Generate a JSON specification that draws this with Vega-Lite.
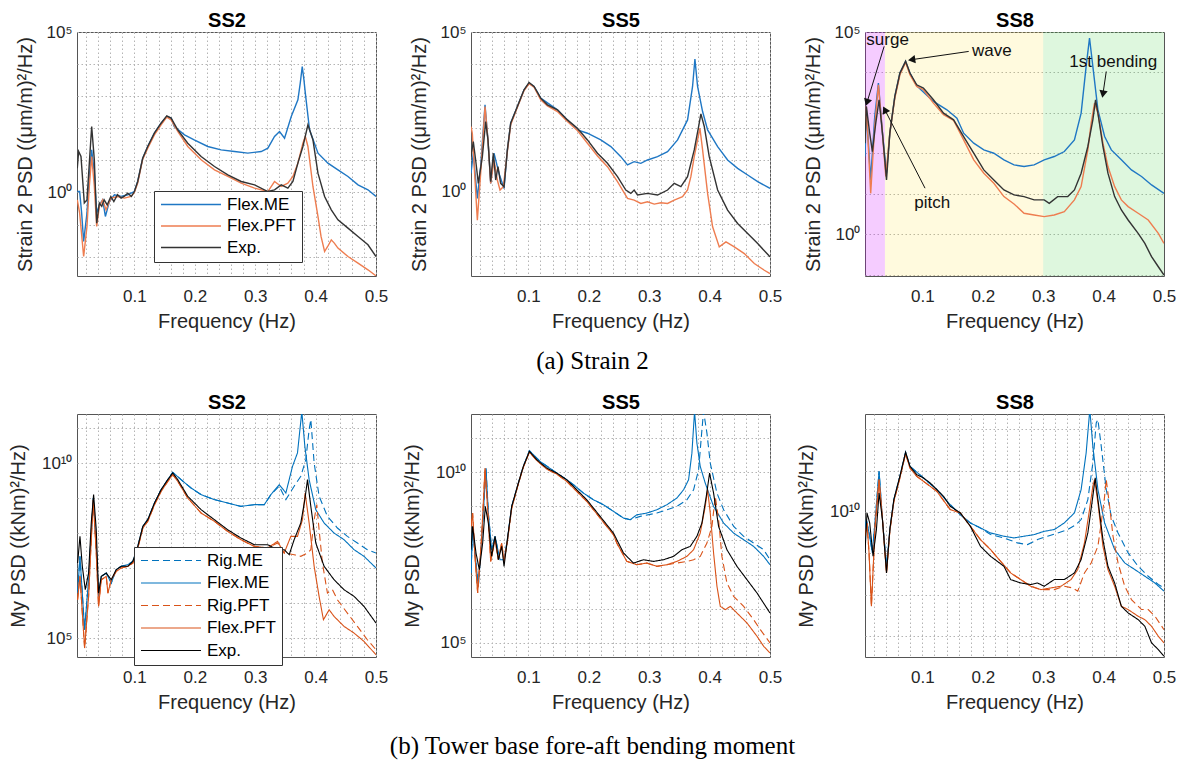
{
"$schema":"https://vega.github.io/schema/vega-lite/v6.json",
"background":"white",
"padding":{"left":7,"top":9,"right":5,"bottom":5},
"config":{
 "font":"Liberation Sans",
 "view":{"stroke":"#555555","strokeWidth":1},
 "axis":{"labelFont":"Liberation Sans","labelFontSize":17,"labelColor":"#262626","titleFont":"Liberation Sans","titleFontSize":20,"titleFontWeight":"normal","titleColor":"#262626","ticks":false,"domain":false,"grid":true,"gridColor":"#b4b4b4","gridDash":[1.5,2.5],"gridWidth":1,"labelOverlap":false},
 "axisX":{"labelPadding":12,"titlePadding":7,"labelFlush":false},
 "axisY":{"labelPadding":5,"titlePadding":11},
 "title":{"font":"Liberation Sans","fontSize":20,"fontWeight":"bold","color":"#000000","frame":"group","anchor":"middle"}
},
"datasets":{
"t2":[
{"s":"Flex.ME","f":0.0055,"v":1.07},{"s":"Flex.ME","f":0.0094,"v":1.07},{"s":"Flex.ME","f":0.0127,"v":0.227},{"s":"Flex.ME","f":0.016,"v":0.0298},{"s":"Flex.ME","f":0.0215,"v":0.227},{"s":"Flex.ME","f":0.0254,"v":3.15},{"s":"Flex.ME","f":0.0293,"v":21.3},{"s":"Flex.ME","f":0.0337,"v":4.0},{"s":"Flex.ME","f":0.0376,"v":0.227},{"s":"Flex.ME","f":0.042,"v":0.41},{"s":"Flex.ME","f":0.0475,"v":0.59},{"s":"Flex.ME","f":0.052,"v":0.179},{"s":"Flex.ME","f":0.0586,"v":0.52},{"s":"Flex.ME","f":0.0669,"v":0.85},{"s":"Flex.ME","f":0.078,"v":0.75},{"s":"Flex.ME","f":0.089,"v":0.85},{"s":"Flex.ME","f":0.1,"v":1.07},{"s":"Flex.ME","f":0.1055,"v":2.2},{"s":"Flex.ME","f":0.1138,"v":11.7},{"s":"Flex.ME","f":0.1221,"v":27.1},{"s":"Flex.ME","f":0.1331,"v":70.5},{"s":"Flex.ME","f":0.1442,"v":144},{"s":"Flex.ME","f":0.1536,"v":233},{"s":"Flex.ME","f":0.161,"v":207},{"s":"Flex.ME","f":0.166,"v":114},{"s":"Flex.ME","f":0.183,"v":62.6},{"s":"Flex.ME","f":0.199,"v":43.7},{"s":"Flex.ME","f":0.2215,"v":27.1},{"s":"Flex.ME","f":0.2436,"v":21.3},{"s":"Flex.ME","f":0.2657,"v":18.9},{"s":"Flex.ME","f":0.2878,"v":16.8},{"s":"Flex.ME","f":0.31,"v":18.9},{"s":"Flex.ME","f":0.321,"v":24},{"s":"Flex.ME","f":0.332,"v":55.6},{"s":"Flex.ME","f":0.3403,"v":79.4},{"s":"Flex.ME","f":0.3486,"v":49.3},{"s":"Flex.ME","f":0.3597,"v":233},{"s":"Flex.ME","f":0.3707,"v":771},{"s":"Flex.ME","f":0.3746,"v":2547},{"s":"Flex.ME","f":0.3779,"v":8414},{"s":"Flex.ME","f":0.3807,"v":3236},{"s":"Flex.ME","f":0.383,"v":1242},{"s":"Flex.ME","f":0.39,"v":89.6},{"s":"Flex.ME","f":0.404,"v":16.8},{"s":"Flex.ME","f":0.4204,"v":8.2},{"s":"Flex.ME","f":0.437,"v":5.08},{"s":"Flex.ME","f":0.4536,"v":3.15},{"s":"Flex.ME","f":0.4702,"v":1.73},{"s":"Flex.ME","f":0.4867,"v":1.21},{"s":"Flex.ME","f":0.5,"v":0.75},
{"s":"Flex.PFT","f":0.0055,"v":0.59},{"s":"Flex.PFT","f":0.0094,"v":0.227},{"s":"Flex.PFT","f":0.016,"v":0.0101},{"s":"Flex.PFT","f":0.0215,"v":0.087},{"s":"Flex.PFT","f":0.0254,"v":1.54},{"s":"Flex.PFT","f":0.0293,"v":13.2},{"s":"Flex.PFT","f":0.0337,"v":1.54},{"s":"Flex.PFT","f":0.0376,"v":0.087},{"s":"Flex.PFT","f":0.042,"v":0.37},{"s":"Flex.PFT","f":0.0475,"v":0.59},{"s":"Flex.PFT","f":0.053,"v":0.288},{"s":"Flex.PFT","f":0.0613,"v":0.67},{"s":"Flex.PFT","f":0.0724,"v":0.75},{"s":"Flex.PFT","f":0.0834,"v":0.67},{"s":"Flex.PFT","f":0.0945,"v":0.75},{"s":"Flex.PFT","f":0.1,"v":1.0},{"s":"Flex.PFT","f":0.1055,"v":1.95},{"s":"Flex.PFT","f":0.1138,"v":10.9},{"s":"Flex.PFT","f":0.1221,"v":24},{"s":"Flex.PFT","f":0.1331,"v":62.6},{"s":"Flex.PFT","f":0.1442,"v":128},{"s":"Flex.PFT","f":0.1536,"v":222},{"s":"Flex.PFT","f":0.1608,"v":184},{"s":"Flex.PFT","f":0.1718,"v":79.4},{"s":"Flex.PFT","f":0.1884,"v":27.1},{"s":"Flex.PFT","f":0.2105,"v":10.4},{"s":"Flex.PFT","f":0.2326,"v":5.08},{"s":"Flex.PFT","f":0.2547,"v":3.15},{"s":"Flex.PFT","f":0.2768,"v":1.95},{"s":"Flex.PFT","f":0.2989,"v":1.36},{"s":"Flex.PFT","f":0.321,"v":1.07},{"s":"Flex.PFT","f":0.332,"v":2.2},{"s":"Flex.PFT","f":0.3431,"v":1.54},{"s":"Flex.PFT","f":0.3541,"v":1.95},{"s":"Flex.PFT","f":0.3624,"v":3.15},{"s":"Flex.PFT","f":0.3707,"v":8.2},{"s":"Flex.PFT","f":0.379,"v":34.4},{"s":"Flex.PFT","f":0.383,"v":55.6},{"s":"Flex.PFT","f":0.3873,"v":27.1},{"s":"Flex.PFT","f":0.3956,"v":1.54},{"s":"Flex.PFT","f":0.4039,"v":0.179},{"s":"Flex.PFT","f":0.409,"v":0.0426},{"s":"Flex.PFT","f":0.4149,"v":0.0145},{"s":"Flex.PFT","f":0.42,"v":0.0208},{"s":"Flex.PFT","f":0.426,"v":0.0335},{"s":"Flex.PFT","f":0.431,"v":0.0264},{"s":"Flex.PFT","f":0.437,"v":0.0185},{"s":"Flex.PFT","f":0.4536,"v":0.0101},{"s":"Flex.PFT","f":0.4702,"v":0.00629},{"s":"Flex.PFT","f":0.4867,"v":0.0039},{"s":"Flex.PFT","f":0.5,"v":0.00253},
{"s":"Exp.","f":0.0055,"v":5.7},{"s":"Exp.","f":0.0077,"v":18.9},{"s":"Exp.","f":0.0116,"v":13.2},{"s":"Exp.","f":0.0171,"v":0.47},{"s":"Exp.","f":0.0215,"v":0.59},{"s":"Exp.","f":0.0254,"v":8.2},{"s":"Exp.","f":0.0293,"v":114},{"s":"Exp.","f":0.0337,"v":10.4},{"s":"Exp.","f":0.0376,"v":0.11},{"s":"Exp.","f":0.042,"v":0.47},{"s":"Exp.","f":0.046,"v":0.37},{"s":"Exp.","f":0.05,"v":0.59},{"s":"Exp.","f":0.055,"v":0.41},{"s":"Exp.","f":0.061,"v":0.75},{"s":"Exp.","f":0.066,"v":0.52},{"s":"Exp.","f":0.072,"v":0.85},{"s":"Exp.","f":0.078,"v":0.67},{"s":"Exp.","f":0.083,"v":0.75},{"s":"Exp.","f":0.089,"v":0.95},{"s":"Exp.","f":0.095,"v":0.75},{"s":"Exp.","f":0.1,"v":1.07},{"s":"Exp.","f":0.1055,"v":2.2},{"s":"Exp.","f":0.1138,"v":11.7},{"s":"Exp.","f":0.1221,"v":27.1},{"s":"Exp.","f":0.1331,"v":70.5},{"s":"Exp.","f":0.1442,"v":144},{"s":"Exp.","f":0.1536,"v":244},{"s":"Exp.","f":0.1608,"v":207},{"s":"Exp.","f":0.1718,"v":89.6},{"s":"Exp.","f":0.1884,"v":34.4},{"s":"Exp.","f":0.2105,"v":13.2},{"s":"Exp.","f":0.2326,"v":6.46},{"s":"Exp.","f":0.2547,"v":3.55},{"s":"Exp.","f":0.2768,"v":2.2},{"s":"Exp.","f":0.2989,"v":1.73},{"s":"Exp.","f":0.321,"v":1.07},{"s":"Exp.","f":0.332,"v":1.21},{"s":"Exp.","f":0.3431,"v":1.73},{"s":"Exp.","f":0.3541,"v":1.36},{"s":"Exp.","f":0.3624,"v":2.2},{"s":"Exp.","f":0.3707,"v":8.2},{"s":"Exp.","f":0.379,"v":27.1},{"s":"Exp.","f":0.3873,"v":128},{"s":"Exp.","f":0.3956,"v":43.7},{"s":"Exp.","f":0.4039,"v":4.0},{"s":"Exp.","f":0.4149,"v":0.75},{"s":"Exp.","f":0.426,"v":0.288},{"s":"Exp.","f":0.437,"v":0.141},{"s":"Exp.","f":0.4536,"v":0.0774},{"s":"Exp.","f":0.4702,"v":0.0426},{"s":"Exp.","f":0.4867,"v":0.0234},{"s":"Exp.","f":0.5,"v":0.0101}
],
"t5":[
{"s":"Flex.ME","f":0.005,"v":3.76},{"s":"Flex.ME","f":0.0088,"v":16},{"s":"Flex.ME","f":0.0155,"v":0.618},{"s":"Flex.ME","f":0.021,"v":6.09},{"s":"Flex.ME","f":0.0282,"v":525},{"s":"Flex.ME","f":0.0331,"v":41.8},{"s":"Flex.ME","f":0.0376,"v":1.83},{"s":"Flex.ME","f":0.0431,"v":16},{"s":"Flex.ME","f":0.0514,"v":3.76},{"s":"Flex.ME","f":0.0597,"v":1.27},{"s":"Flex.ME","f":0.0652,"v":20.3},{"s":"Flex.ME","f":0.0707,"v":139},{"s":"Flex.ME","f":0.0818,"v":465},{"s":"Flex.ME","f":0.0928,"v":1549},{"s":"Flex.ME","f":0.1011,"v":2512},{"s":"Flex.ME","f":0.1094,"v":1972},{"s":"Flex.ME","f":0.1204,"v":849},{"s":"Flex.ME","f":0.1481,"v":365},{"s":"Flex.ME","f":0.1646,"v":177},{"s":"Flex.ME","f":0.1812,"v":86.1},{"s":"Flex.ME","f":0.1978,"v":67.7},{"s":"Flex.ME","f":0.2199,"v":41.8},{"s":"Flex.ME","f":0.2365,"v":25.8},{"s":"Flex.ME","f":0.253,"v":12.5},{"s":"Flex.ME","f":0.2641,"v":6.87},{"s":"Flex.ME","f":0.2751,"v":8.74},{"s":"Flex.ME","f":0.2862,"v":7.74},{"s":"Flex.ME","f":0.2972,"v":9.86},{"s":"Flex.ME","f":0.3138,"v":12.5},{"s":"Flex.ME","f":0.3304,"v":18},{"s":"Flex.ME","f":0.347,"v":41.8},{"s":"Flex.ME","f":0.3635,"v":177},{"s":"Flex.ME","f":0.3718,"v":1972},{"s":"Flex.ME","f":0.3757,"v":14220},{"s":"Flex.ME","f":0.3801,"v":1972},{"s":"Flex.ME","f":0.3884,"v":324},{"s":"Flex.ME","f":0.3967,"v":86.1},{"s":"Flex.ME","f":0.4133,"v":25.8},{"s":"Flex.ME","f":0.4298,"v":9.86},{"s":"Flex.ME","f":0.4464,"v":5.4},{"s":"Flex.ME","f":0.463,"v":3.33},{"s":"Flex.ME","f":0.4796,"v":2.06},{"s":"Flex.ME","f":0.5,"v":1.27},
{"s":"Flex.PFT","f":0.005,"v":110},{"s":"Flex.PFT","f":0.0072,"v":67.7},{"s":"Flex.PFT","f":0.011,"v":3.76},{"s":"Flex.PFT","f":0.0155,"v":0.129},{"s":"Flex.PFT","f":0.021,"v":3.76},{"s":"Flex.PFT","f":0.0282,"v":465},{"s":"Flex.PFT","f":0.0331,"v":41.8},{"s":"Flex.PFT","f":0.0376,"v":1.83},{"s":"Flex.PFT","f":0.0431,"v":9.86},{"s":"Flex.PFT","f":0.0486,"v":2.32},{"s":"Flex.PFT","f":0.053,"v":1.13},{"s":"Flex.PFT","f":0.0586,"v":1.44},{"s":"Flex.PFT","f":0.0652,"v":18},{"s":"Flex.PFT","f":0.0707,"v":124},{"s":"Flex.PFT","f":0.0818,"v":443},{"s":"Flex.PFT","f":0.0928,"v":1476},{"s":"Flex.PFT","f":0.1011,"v":2393},{"s":"Flex.PFT","f":0.1094,"v":1876},{"s":"Flex.PFT","f":0.1204,"v":753},{"s":"Flex.PFT","f":0.1315,"v":488},{"s":"Flex.PFT","f":0.1481,"v":324},{"s":"Flex.PFT","f":0.1646,"v":157},{"s":"Flex.PFT","f":0.1812,"v":82},{"s":"Flex.PFT","f":0.1978,"v":32.9},{"s":"Flex.PFT","f":0.2144,"v":13.2},{"s":"Flex.PFT","f":0.2309,"v":6.09},{"s":"Flex.PFT","f":0.2475,"v":2.06},{"s":"Flex.PFT","f":0.2641,"v":0.618},{"s":"Flex.PFT","f":0.2751,"v":0.547},{"s":"Flex.PFT","f":0.2862,"v":0.43},{"s":"Flex.PFT","f":0.2972,"v":0.486},{"s":"Flex.PFT","f":0.3083,"v":0.41},{"s":"Flex.PFT","f":0.3193,"v":0.452},{"s":"Flex.PFT","f":0.3304,"v":0.43},{"s":"Flex.PFT","f":0.3414,"v":0.547},{"s":"Flex.PFT","f":0.3552,"v":0.697},{"s":"Flex.PFT","f":0.3635,"v":1.13},{"s":"Flex.PFT","f":0.369,"v":2.96},{"s":"Flex.PFT","f":0.3746,"v":12.5},{"s":"Flex.PFT","f":0.3801,"v":41.8},{"s":"Flex.PFT","f":0.384,"v":97.1},{"s":"Flex.PFT","f":0.3884,"v":20.3},{"s":"Flex.PFT","f":0.3967,"v":0.887},{"s":"Flex.PFT","f":0.405,"v":0.0798},{"s":"Flex.PFT","f":0.416,"v":0.0188},{"s":"Flex.PFT","f":0.4271,"v":0.027},{"s":"Flex.PFT","f":0.4409,"v":0.0188},{"s":"Flex.PFT","f":0.4575,"v":0.0116},{"s":"Flex.PFT","f":0.474,"v":0.00564},{"s":"Flex.PFT","f":0.4906,"v":0.00348},{"s":"Flex.PFT","f":0.5,"v":0.00274},
{"s":"Exp.","f":0.005,"v":12.5},{"s":"Exp.","f":0.0088,"v":37.1},{"s":"Exp.","f":0.0127,"v":9.86},{"s":"Exp.","f":0.0171,"v":1.83},{"s":"Exp.","f":0.0238,"v":12.5},{"s":"Exp.","f":0.0293,"v":157},{"s":"Exp.","f":0.0331,"v":41.8},{"s":"Exp.","f":0.0376,"v":2.06},{"s":"Exp.","f":0.042,"v":16},{"s":"Exp.","f":0.0459,"v":2.32},{"s":"Exp.","f":0.0497,"v":6.09},{"s":"Exp.","f":0.0541,"v":1.83},{"s":"Exp.","f":0.0597,"v":1.44},{"s":"Exp.","f":0.0652,"v":20.3},{"s":"Exp.","f":0.0707,"v":139},{"s":"Exp.","f":0.0818,"v":465},{"s":"Exp.","f":0.0928,"v":1549},{"s":"Exp.","f":0.1011,"v":2634},{"s":"Exp.","f":0.1094,"v":1972},{"s":"Exp.","f":0.1204,"v":849},{"s":"Exp.","f":0.1315,"v":525},{"s":"Exp.","f":0.1481,"v":365},{"s":"Exp.","f":0.1646,"v":177},{"s":"Exp.","f":0.1812,"v":97.1},{"s":"Exp.","f":0.1978,"v":41.8},{"s":"Exp.","f":0.2144,"v":16},{"s":"Exp.","f":0.2309,"v":7.74},{"s":"Exp.","f":0.2475,"v":2.96},{"s":"Exp.","f":0.2613,"v":1.13},{"s":"Exp.","f":0.2696,"v":0.887},{"s":"Exp.","f":0.2751,"v":1.13},{"s":"Exp.","f":0.2807,"v":0.786},{"s":"Exp.","f":0.2972,"v":0.887},{"s":"Exp.","f":0.3138,"v":0.786},{"s":"Exp.","f":0.3304,"v":1.13},{"s":"Exp.","f":0.3414,"v":1.83},{"s":"Exp.","f":0.3525,"v":1.44},{"s":"Exp.","f":0.3635,"v":2.96},{"s":"Exp.","f":0.3746,"v":20.3},{"s":"Exp.","f":0.3818,"v":110},{"s":"Exp.","f":0.3856,"v":274},{"s":"Exp.","f":0.3912,"v":110},{"s":"Exp.","f":0.3994,"v":12.5},{"s":"Exp.","f":0.4133,"v":1.13},{"s":"Exp.","f":0.4298,"v":0.266},{"s":"Exp.","f":0.4464,"v":0.101},{"s":"Exp.","f":0.463,"v":0.0492},{"s":"Exp.","f":0.4796,"v":0.0239},{"s":"Exp.","f":0.5,"v":0.00912}
],
"t8":[
{"s":"Flex.ME","f":0.005,"v":83.6},{"s":"Flex.ME","f":0.0072,"v":1195},{"s":"Flex.ME","f":0.0144,"v":22.1},{"s":"Flex.ME","f":0.0211,"v":818},{"s":"Flex.ME","f":0.0272,"v":5470},{"s":"Flex.ME","f":0.0339,"v":316},{"s":"Flex.ME","f":0.0406,"v":32.4},{"s":"Flex.ME","f":0.0461,"v":316},{"s":"Flex.ME","f":0.0544,"v":2558},{"s":"Flex.ME","f":0.0628,"v":9660},{"s":"Flex.ME","f":0.0722,"v":18790},{"s":"Flex.ME","f":0.0794,"v":9660},{"s":"Flex.ME","f":0.0906,"v":4696},{"s":"Flex.ME","f":0.1183,"v":1923},{"s":"Flex.ME","f":0.1406,"v":1195},{"s":"Flex.ME","f":0.1572,"v":743},{"s":"Flex.ME","f":0.1683,"v":316},{"s":"Flex.ME","f":0.185,"v":179},{"s":"Flex.ME","f":0.2017,"v":122},{"s":"Flex.ME","f":0.2183,"v":101},{"s":"Flex.ME","f":0.235,"v":69.2},{"s":"Flex.ME","f":0.2517,"v":52},{"s":"Flex.ME","f":0.2683,"v":47.3},{"s":"Flex.ME","f":0.285,"v":52},{"s":"Flex.ME","f":0.3017,"v":69.2},{"s":"Flex.ME","f":0.3183,"v":83.6},{"s":"Flex.ME","f":0.335,"v":111},{"s":"Flex.ME","f":0.3517,"v":216},{"s":"Flex.ME","f":0.3628,"v":988},{"s":"Flex.ME","f":0.3711,"v":14130},{"s":"Flex.ME","f":0.3767,"v":70990},{"s":"Flex.ME","f":0.3822,"v":14130},{"s":"Flex.ME","f":0.3906,"v":1195},{"s":"Flex.ME","f":0.4017,"v":261},{"s":"Flex.ME","f":0.4128,"v":122},{"s":"Flex.ME","f":0.4294,"v":69.2},{"s":"Flex.ME","f":0.4461,"v":39.1},{"s":"Flex.ME","f":0.4628,"v":26.8},{"s":"Flex.ME","f":0.4794,"v":16.6},{"s":"Flex.ME","f":0.5,"v":10.3},
{"s":"Flex.PFT","f":0.005,"v":216},{"s":"Flex.PFT","f":0.0072,"v":1445},{"s":"Flex.PFT","f":0.0144,"v":10.3},{"s":"Flex.PFT","f":0.0211,"v":462},{"s":"Flex.PFT","f":0.0272,"v":4966},{"s":"Flex.PFT","f":0.0339,"v":316},{"s":"Flex.PFT","f":0.0394,"v":26.8},{"s":"Flex.PFT","f":0.0461,"v":316},{"s":"Flex.PFT","f":0.0544,"v":2323},{"s":"Flex.PFT","f":0.0628,"v":8790},{"s":"Flex.PFT","f":0.0722,"v":17740},{"s":"Flex.PFT","f":0.0794,"v":8790},{"s":"Flex.PFT","f":0.0906,"v":4521},{"s":"Flex.PFT","f":0.1017,"v":3741},{"s":"Flex.PFT","f":0.1183,"v":1750},{"s":"Flex.PFT","f":0.135,"v":899},{"s":"Flex.PFT","f":0.1517,"v":651},{"s":"Flex.PFT","f":0.1683,"v":216},{"s":"Flex.PFT","f":0.185,"v":69.2},{"s":"Flex.PFT","f":0.2017,"v":32.4},{"s":"Flex.PFT","f":0.2183,"v":18.3},{"s":"Flex.PFT","f":0.235,"v":8.55},{"s":"Flex.PFT","f":0.2517,"v":5.63},{"s":"Flex.PFT","f":0.2683,"v":3.31},{"s":"Flex.PFT","f":0.285,"v":3.01},{"s":"Flex.PFT","f":0.3017,"v":2.74},{"s":"Flex.PFT","f":0.3183,"v":3.01},{"s":"Flex.PFT","f":0.335,"v":3.64},{"s":"Flex.PFT","f":0.3517,"v":7.08},{"s":"Flex.PFT","f":0.3628,"v":15.1},{"s":"Flex.PFT","f":0.3739,"v":122},{"s":"Flex.PFT","f":0.3794,"v":560},{"s":"Flex.PFT","f":0.385,"v":1750},{"s":"Flex.PFT","f":0.3906,"v":988},{"s":"Flex.PFT","f":0.3989,"v":179},{"s":"Flex.PFT","f":0.4072,"v":47.3},{"s":"Flex.PFT","f":0.4183,"v":15.1},{"s":"Flex.PFT","f":0.4294,"v":7.08},{"s":"Flex.PFT","f":0.4406,"v":4.84},{"s":"Flex.PFT","f":0.4572,"v":3.31},{"s":"Flex.PFT","f":0.4739,"v":2.26},{"s":"Flex.PFT","f":0.4906,"v":1.06},{"s":"Flex.PFT","f":0.5,"v":0.599},
{"s":"Exp.","f":0.005,"v":179},{"s":"Exp.","f":0.0072,"v":1445},{"s":"Exp.","f":0.0128,"v":316},{"s":"Exp.","f":0.0172,"v":111},{"s":"Exp.","f":0.0228,"v":560},{"s":"Exp.","f":0.0283,"v":2113},{"s":"Exp.","f":0.0339,"v":316},{"s":"Exp.","f":0.0406,"v":22.1},{"s":"Exp.","f":0.0461,"v":316},{"s":"Exp.","f":0.0544,"v":2558},{"s":"Exp.","f":0.0628,"v":9660},{"s":"Exp.","f":0.0722,"v":18790},{"s":"Exp.","f":0.0794,"v":9660},{"s":"Exp.","f":0.0906,"v":4966},{"s":"Exp.","f":0.1017,"v":4111},{"s":"Exp.","f":0.1183,"v":2113},{"s":"Exp.","f":0.135,"v":988},{"s":"Exp.","f":0.1517,"v":676},{"s":"Exp.","f":0.1683,"v":261},{"s":"Exp.","f":0.185,"v":101},{"s":"Exp.","f":0.2017,"v":39.1},{"s":"Exp.","f":0.2183,"v":22.1},{"s":"Exp.","f":0.235,"v":12.5},{"s":"Exp.","f":0.2517,"v":9.42},{"s":"Exp.","f":0.2683,"v":8.55},{"s":"Exp.","f":0.285,"v":7.08},{"s":"Exp.","f":0.3017,"v":7.08},{"s":"Exp.","f":0.31,"v":5.85},{"s":"Exp.","f":0.3239,"v":8.55},{"s":"Exp.","f":0.3406,"v":8.55},{"s":"Exp.","f":0.3517,"v":12.5},{"s":"Exp.","f":0.3628,"v":32.4},{"s":"Exp.","f":0.3739,"v":148},{"s":"Exp.","f":0.3822,"v":676},{"s":"Exp.","f":0.3867,"v":2113},{"s":"Exp.","f":0.3906,"v":988},{"s":"Exp.","f":0.3989,"v":148},{"s":"Exp.","f":0.4072,"v":32.4},{"s":"Exp.","f":0.4183,"v":8.55},{"s":"Exp.","f":0.4294,"v":4.0},{"s":"Exp.","f":0.4406,"v":2.26},{"s":"Exp.","f":0.4572,"v":1.06},{"s":"Exp.","f":0.4683,"v":0.599},{"s":"Exp.","f":0.4794,"v":0.28},{"s":"Exp.","f":0.4906,"v":0.158},{"s":"Exp.","f":0.5,"v":0.0985}
],
"bands8":[{"band":"low","f":0.005,"f2":0.038},{"band":"wave","f":0.038,"f2":0.3},{"band":"bend","f":0.3,"f2":0.5}],
"arrows8":[{"f":0.0367,"v":44200,"f2":0.0083,"v2":1820,"a":197},{"f":0.1767,"v":33100,"f2":0.0822,"v2":20700,"a":262},{"f":0.4044,"v":10600,"f2":0.3989,"v2":2920,"a":190},{"f":0.1044,"v":13.8,"f2":0.0378,"v2":1200,"a":333}],
"labels8":[{"label":"surge","f":0.0072,"v":64600},{"label":"wave","f":0.1822,"v":33100},{"label":"1st bending","f":0.3433,"v":17800},{"label":"pitch","f":0.0867,"v":5.85}],
"b2":[
{"s":"Rig.ME","f":0.006,"v":1.94e6},{"s":"Rig.ME","f":0.0099,"v":2.18e7},{"s":"Rig.ME","f":0.0176,"v":1.73e5},{"s":"Rig.ME","f":0.0242,"v":4.68e6},{"s":"Rig.ME","f":0.0319,"v":1.02e9},{"s":"Rig.ME","f":0.0369,"v":4.21e7},{"s":"Rig.ME","f":0.0407,"v":1.56e6},{"s":"Rig.ME","f":0.0452,"v":5.82e6},{"s":"Rig.ME","f":0.0534,"v":7.26e6},{"s":"Rig.ME","f":0.0617,"v":3.76e6},{"s":"Rig.ME","f":0.0699,"v":9.04e6},{"s":"Rig.ME","f":0.0782,"v":1.13e7},{"s":"Rig.ME","f":0.0892,"v":1.26e7},{"s":"Rig.ME","f":0.0975,"v":1.57e7},{"s":"Rig.ME","f":0.1057,"v":4.21e7},{"s":"Rig.ME","f":0.114,"v":1.57e8},{"s":"Rig.ME","f":0.1222,"v":2.44e8},{"s":"Rig.ME","f":0.1333,"v":7.31e8},{"s":"Rig.ME","f":0.1443,"v":1.76e9},{"s":"Rig.ME","f":0.1553,"v":3.4e9},{"s":"Rig.ME","f":0.1635,"v":5.52e9},{"s":"Rig.ME","f":0.1773,"v":3.4e9},{"s":"Rig.ME","f":0.1938,"v":1.97e9},{"s":"Rig.ME","f":0.2104,"v":1.27e9},{"s":"Rig.ME","f":0.2324,"v":9.12e8},{"s":"Rig.ME","f":0.2544,"v":7.31e8},{"s":"Rig.ME","f":0.2764,"v":5.87e8},{"s":"Rig.ME","f":0.2985,"v":6.56e8},{"s":"Rig.ME","f":0.315,"v":6.56e8},{"s":"Rig.ME","f":0.326,"v":1.27e9},{"s":"Rig.ME","f":0.3398,"v":2.2e9},{"s":"Rig.ME","f":0.3508,"v":9.12e8},{"s":"Rig.ME","f":0.3645,"v":2.2e9},{"s":"Rig.ME","f":0.3755,"v":4.25e9},{"s":"Rig.ME","f":0.3838,"v":1.27e10},{"s":"Rig.ME","f":0.3893,"v":9.2e10},{"s":"Rig.ME","f":0.3921,"v":1.78e11},{"s":"Rig.ME","f":0.3976,"v":1.02e10},{"s":"Rig.ME","f":0.4058,"v":1.14e9},{"s":"Rig.ME","f":0.4196,"v":3.04e8},{"s":"Rig.ME","f":0.4361,"v":1.41e8},{"s":"Rig.ME","f":0.4526,"v":8.13e7},{"s":"Rig.ME","f":0.4692,"v":5.24e7},{"s":"Rig.ME","f":0.4857,"v":3.38e7},{"s":"Rig.ME","f":0.5,"v":2.71e7},
{"s":"Flex.ME","f":0.006,"v":1.94e6},{"s":"Flex.ME","f":0.0099,"v":2.18e7},{"s":"Flex.ME","f":0.0176,"v":1.73e5},{"s":"Flex.ME","f":0.0242,"v":4.68e6},{"s":"Flex.ME","f":0.0319,"v":1.02e9},{"s":"Flex.ME","f":0.0369,"v":4.21e7},{"s":"Flex.ME","f":0.0407,"v":1.56e6},{"s":"Flex.ME","f":0.0452,"v":5.82e6},{"s":"Flex.ME","f":0.0534,"v":7.26e6},{"s":"Flex.ME","f":0.0617,"v":3.76e6},{"s":"Flex.ME","f":0.0699,"v":9.04e6},{"s":"Flex.ME","f":0.0782,"v":1.13e7},{"s":"Flex.ME","f":0.0892,"v":1.26e7},{"s":"Flex.ME","f":0.0975,"v":1.57e7},{"s":"Flex.ME","f":0.1057,"v":4.21e7},{"s":"Flex.ME","f":0.114,"v":1.57e8},{"s":"Flex.ME","f":0.1222,"v":2.44e8},{"s":"Flex.ME","f":0.1333,"v":7.31e8},{"s":"Flex.ME","f":0.1443,"v":1.76e9},{"s":"Flex.ME","f":0.1553,"v":3.4e9},{"s":"Flex.ME","f":0.1635,"v":5.52e9},{"s":"Flex.ME","f":0.1773,"v":3.4e9},{"s":"Flex.ME","f":0.1938,"v":1.97e9},{"s":"Flex.ME","f":0.2104,"v":1.27e9},{"s":"Flex.ME","f":0.2324,"v":9.12e8},{"s":"Flex.ME","f":0.2544,"v":7.31e8},{"s":"Flex.ME","f":0.2764,"v":5.87e8},{"s":"Flex.ME","f":0.2985,"v":6.56e8},{"s":"Flex.ME","f":0.315,"v":6.56e8},{"s":"Flex.ME","f":0.326,"v":1.27e9},{"s":"Flex.ME","f":0.3398,"v":2.45e9},{"s":"Flex.ME","f":0.3508,"v":1.42e9},{"s":"Flex.ME","f":0.3618,"v":8.2e9},{"s":"Flex.ME","f":0.37,"v":1.98e10},{"s":"Flex.ME","f":0.3772,"v":3.0e11},{"s":"Flex.ME","f":0.3822,"v":3.07e10},{"s":"Flex.ME","f":0.3893,"v":3.4e9},{"s":"Flex.ME","f":0.4003,"v":4.72e8},{"s":"Flex.ME","f":0.4141,"v":1.96e8},{"s":"Flex.ME","f":0.4306,"v":1.01e8},{"s":"Flex.ME","f":0.4471,"v":6.53e7},{"s":"Flex.ME","f":0.4637,"v":3.38e7},{"s":"Flex.ME","f":0.4802,"v":2.18e7},{"s":"Flex.ME","f":0.5,"v":1.01e7},
{"s":"Rig.PFT","f":0.006,"v":1.25e6},{"s":"Rig.PFT","f":0.0099,"v":5.82e6},{"s":"Rig.PFT","f":0.0176,"v":5.18e4},{"s":"Rig.PFT","f":0.0242,"v":1.56e6},{"s":"Rig.PFT","f":0.0286,"v":6.53e7},{"s":"Rig.PFT","f":0.0319,"v":9.12e8},{"s":"Rig.PFT","f":0.0369,"v":2.71e7},{"s":"Rig.PFT","f":0.0407,"v":8.05e5},{"s":"Rig.PFT","f":0.0452,"v":4.68e6},{"s":"Rig.PFT","f":0.0534,"v":5.82e6},{"s":"Rig.PFT","f":0.0562,"v":1.94e6},{"s":"Rig.PFT","f":0.0617,"v":4.68e6},{"s":"Rig.PFT","f":0.0699,"v":8.09e6},{"s":"Rig.PFT","f":0.0782,"v":1.01e7},{"s":"Rig.PFT","f":0.0892,"v":1.13e7},{"s":"Rig.PFT","f":0.0975,"v":1.4e7},{"s":"Rig.PFT","f":0.1057,"v":3.77e7},{"s":"Rig.PFT","f":0.114,"v":1.41e8},{"s":"Rig.PFT","f":0.1222,"v":2.19e8},{"s":"Rig.PFT","f":0.1333,"v":6.56e8},{"s":"Rig.PFT","f":0.1443,"v":1.58e9},{"s":"Rig.PFT","f":0.1553,"v":3.05e9},{"s":"Rig.PFT","f":0.1635,"v":4.74e9},{"s":"Rig.PFT","f":0.1718,"v":3.05e9},{"s":"Rig.PFT","f":0.1883,"v":1.02e9},{"s":"Rig.PFT","f":0.2104,"v":3.78e8},{"s":"Rig.PFT","f":0.2324,"v":2.19e8},{"s":"Rig.PFT","f":0.2544,"v":1.13e8},{"s":"Rig.PFT","f":0.2764,"v":6.53e7},{"s":"Rig.PFT","f":0.2985,"v":4.21e7},{"s":"Rig.PFT","f":0.3205,"v":3.77e7},{"s":"Rig.PFT","f":0.337,"v":5.24e7},{"s":"Rig.PFT","f":0.348,"v":2.71e7},{"s":"Rig.PFT","f":0.3645,"v":2.43e7},{"s":"Rig.PFT","f":0.3755,"v":2.18e7},{"s":"Rig.PFT","f":0.3866,"v":2.71e7},{"s":"Rig.PFT","f":0.3921,"v":3.38e7},{"s":"Rig.PFT","f":0.3976,"v":2.44e8},{"s":"Rig.PFT","f":0.402,"v":6.56e8},{"s":"Rig.PFT","f":0.4058,"v":1.26e8},{"s":"Rig.PFT","f":0.4113,"v":1.4e7},{"s":"Rig.PFT","f":0.4196,"v":1.94e6},{"s":"Rig.PFT","f":0.4279,"v":2.42e6},{"s":"Rig.PFT","f":0.4361,"v":1.25e6},{"s":"Rig.PFT","f":0.4526,"v":5.2e5},{"s":"Rig.PFT","f":0.4692,"v":2.16e5},{"s":"Rig.PFT","f":0.4857,"v":8.96e4},{"s":"Rig.PFT","f":0.5,"v":4.64e4},
{"s":"Flex.PFT","f":0.006,"v":1.25e6},{"s":"Flex.PFT","f":0.0099,"v":5.82e6},{"s":"Flex.PFT","f":0.0176,"v":5.18e4},{"s":"Flex.PFT","f":0.0242,"v":1.56e6},{"s":"Flex.PFT","f":0.0286,"v":6.53e7},{"s":"Flex.PFT","f":0.0319,"v":9.12e8},{"s":"Flex.PFT","f":0.0369,"v":2.71e7},{"s":"Flex.PFT","f":0.0407,"v":8.05e5},{"s":"Flex.PFT","f":0.0452,"v":4.68e6},{"s":"Flex.PFT","f":0.0534,"v":5.82e6},{"s":"Flex.PFT","f":0.0562,"v":1.94e6},{"s":"Flex.PFT","f":0.0617,"v":4.68e6},{"s":"Flex.PFT","f":0.0699,"v":8.09e6},{"s":"Flex.PFT","f":0.0782,"v":1.01e7},{"s":"Flex.PFT","f":0.0892,"v":1.13e7},{"s":"Flex.PFT","f":0.0975,"v":1.4e7},{"s":"Flex.PFT","f":0.1057,"v":3.77e7},{"s":"Flex.PFT","f":0.114,"v":1.41e8},{"s":"Flex.PFT","f":0.1222,"v":2.19e8},{"s":"Flex.PFT","f":0.1333,"v":6.56e8},{"s":"Flex.PFT","f":0.1443,"v":1.58e9},{"s":"Flex.PFT","f":0.1553,"v":3.05e9},{"s":"Flex.PFT","f":0.1635,"v":4.74e9},{"s":"Flex.PFT","f":0.1718,"v":3.05e9},{"s":"Flex.PFT","f":0.1883,"v":1.02e9},{"s":"Flex.PFT","f":0.2104,"v":3.78e8},{"s":"Flex.PFT","f":0.2324,"v":2.19e8},{"s":"Flex.PFT","f":0.2544,"v":1.13e8},{"s":"Flex.PFT","f":0.2764,"v":6.53e7},{"s":"Flex.PFT","f":0.2985,"v":4.21e7},{"s":"Flex.PFT","f":0.3205,"v":3.77e7},{"s":"Flex.PFT","f":0.337,"v":5.85e7},{"s":"Flex.PFT","f":0.348,"v":2.71e7},{"s":"Flex.PFT","f":0.359,"v":8.13e7},{"s":"Flex.PFT","f":0.37,"v":8.13e7},{"s":"Flex.PFT","f":0.3783,"v":2.44e8},{"s":"Flex.PFT","f":0.3827,"v":1.42e9},{"s":"Flex.PFT","f":0.3893,"v":1.96e8},{"s":"Flex.PFT","f":0.3976,"v":1.13e7},{"s":"Flex.PFT","f":0.4058,"v":1.56e6},{"s":"Flex.PFT","f":0.413,"v":3.35e5},{"s":"Flex.PFT","f":0.4224,"v":6.47e5},{"s":"Flex.PFT","f":0.4306,"v":4.17e5},{"s":"Flex.PFT","f":0.4471,"v":2.16e5},{"s":"Flex.PFT","f":0.4637,"v":1.39e5},{"s":"Flex.PFT","f":0.4802,"v":8.04e4},{"s":"Flex.PFT","f":0.5,"v":3.33e4},
{"s":"Exp.","f":0.006,"v":1.4e7},{"s":"Exp.","f":0.0099,"v":8.13e7},{"s":"Exp.","f":0.0138,"v":1.13e7},{"s":"Exp.","f":0.0187,"v":2.42e6},{"s":"Exp.","f":0.0242,"v":7.26e6},{"s":"Exp.","f":0.0286,"v":1.96e8},{"s":"Exp.","f":0.0325,"v":1.27e9},{"s":"Exp.","f":0.0369,"v":1.26e8},{"s":"Exp.","f":0.0407,"v":1.94e6},{"s":"Exp.","f":0.0452,"v":5.82e6},{"s":"Exp.","f":0.0534,"v":7.26e6},{"s":"Exp.","f":0.0617,"v":4.68e6},{"s":"Exp.","f":0.0699,"v":9.04e6},{"s":"Exp.","f":0.0782,"v":1.13e7},{"s":"Exp.","f":0.0892,"v":1.13e7},{"s":"Exp.","f":0.0975,"v":1.57e7},{"s":"Exp.","f":0.1057,"v":4.21e7},{"s":"Exp.","f":0.114,"v":1.57e8},{"s":"Exp.","f":0.1222,"v":2.44e8},{"s":"Exp.","f":0.1333,"v":7.31e8},{"s":"Exp.","f":0.1443,"v":1.76e9},{"s":"Exp.","f":0.1553,"v":3.4e9},{"s":"Exp.","f":0.1635,"v":5.28e9},{"s":"Exp.","f":0.1718,"v":3.4e9},{"s":"Exp.","f":0.1883,"v":1.14e9},{"s":"Exp.","f":0.2104,"v":4.72e8},{"s":"Exp.","f":0.2324,"v":2.44e8},{"s":"Exp.","f":0.2544,"v":1.26e8},{"s":"Exp.","f":0.2764,"v":7.29e7},{"s":"Exp.","f":0.2985,"v":4.7e7},{"s":"Exp.","f":0.3205,"v":4.7e7},{"s":"Exp.","f":0.337,"v":3.38e7},{"s":"Exp.","f":0.348,"v":3.38e7},{"s":"Exp.","f":0.3563,"v":2.43e7},{"s":"Exp.","f":0.3645,"v":6.53e7},{"s":"Exp.","f":0.3755,"v":1.96e8},{"s":"Exp.","f":0.3822,"v":9.12e8},{"s":"Exp.","f":0.3866,"v":3.4e9},{"s":"Exp.","f":0.3921,"v":5.87e8},{"s":"Exp.","f":0.4003,"v":5.24e7},{"s":"Exp.","f":0.4141,"v":1.13e7},{"s":"Exp.","f":0.4306,"v":4.68e6},{"s":"Exp.","f":0.4471,"v":2.42e6},{"s":"Exp.","f":0.4637,"v":1.56e6},{"s":"Exp.","f":0.4802,"v":8.05e5},{"s":"Exp.","f":0.5,"v":2.69e5}
],
"b5":[
{"s":"Rig.ME","f":0.005,"v":1.11e7},{"s":"Rig.ME","f":0.0077,"v":2.06e8},{"s":"Rig.ME","f":0.0116,"v":4.29e7},{"s":"Rig.ME","f":0.0171,"v":4.54e6},{"s":"Rig.ME","f":0.0227,"v":1.05e8},{"s":"Rig.ME","f":0.0298,"v":1.31e10},{"s":"Rig.ME","f":0.0337,"v":6.32e8},{"s":"Rig.ME","f":0.0392,"v":5.36e7},{"s":"Rig.ME","f":0.0448,"v":1.32e8},{"s":"Rig.ME","f":0.053,"v":2.73e7},{"s":"Rig.ME","f":0.0597,"v":2.73e7},{"s":"Rig.ME","f":0.0652,"v":1.05e8},{"s":"Rig.ME","f":0.0724,"v":9.91e8},{"s":"Rig.ME","f":0.0834,"v":4.76e9},{"s":"Rig.ME","f":0.0917,"v":1.47e10},{"s":"Rig.ME","f":0.1017,"v":4.21e10},{"s":"Rig.ME","f":0.1193,"v":2.05e10},{"s":"Rig.ME","f":0.147,"v":9.35e9},{"s":"Rig.ME","f":0.1635,"v":5.97e9},{"s":"Rig.ME","f":0.1746,"v":4.27e9},{"s":"Rig.ME","f":0.1912,"v":2.43e9},{"s":"Rig.ME","f":0.2077,"v":1.55e9},{"s":"Rig.ME","f":0.2243,"v":1.11e9},{"s":"Rig.ME","f":0.2409,"v":7.08e8},{"s":"Rig.ME","f":0.2575,"v":4.52e8},{"s":"Rig.ME","f":0.2685,"v":4.04e8},{"s":"Rig.ME","f":0.2851,"v":5.06e8},{"s":"Rig.ME","f":0.3127,"v":6.32e8},{"s":"Rig.ME","f":0.3293,"v":7.93e8},{"s":"Rig.ME","f":0.3459,"v":9.91e8},{"s":"Rig.ME","f":0.3624,"v":1.55e9},{"s":"Rig.ME","f":0.3735,"v":3.04e9},{"s":"Rig.ME","f":0.3818,"v":1.17e10},{"s":"Rig.ME","f":0.3873,"v":1.73e11},{"s":"Rig.ME","f":0.39,"v":6e11},{"s":"Rig.ME","f":0.3956,"v":1.38e11},{"s":"Rig.ME","f":0.4011,"v":1.83e10},{"s":"Rig.ME","f":0.4122,"v":2.43e9},{"s":"Rig.ME","f":0.4232,"v":7.93e8},{"s":"Rig.ME","f":0.4398,"v":2.58e8},{"s":"Rig.ME","f":0.4564,"v":1.32e8},{"s":"Rig.ME","f":0.4729,"v":8.39e7},{"s":"Rig.ME","f":0.4895,"v":5.36e7},{"s":"Rig.ME","f":0.5,"v":2.73e7},
{"s":"Flex.ME","f":0.005,"v":1.11e7},{"s":"Flex.ME","f":0.0077,"v":2.06e8},{"s":"Flex.ME","f":0.0116,"v":4.29e7},{"s":"Flex.ME","f":0.0171,"v":4.54e6},{"s":"Flex.ME","f":0.0227,"v":1.05e8},{"s":"Flex.ME","f":0.0298,"v":1.31e10},{"s":"Flex.ME","f":0.0337,"v":6.32e8},{"s":"Flex.ME","f":0.0392,"v":5.36e7},{"s":"Flex.ME","f":0.0448,"v":1.32e8},{"s":"Flex.ME","f":0.053,"v":2.73e7},{"s":"Flex.ME","f":0.0597,"v":2.73e7},{"s":"Flex.ME","f":0.0652,"v":1.05e8},{"s":"Flex.ME","f":0.0724,"v":9.91e8},{"s":"Flex.ME","f":0.0834,"v":4.76e9},{"s":"Flex.ME","f":0.0917,"v":1.47e10},{"s":"Flex.ME","f":0.1017,"v":4.21e10},{"s":"Flex.ME","f":0.1193,"v":2.05e10},{"s":"Flex.ME","f":0.147,"v":9.35e9},{"s":"Flex.ME","f":0.1635,"v":5.97e9},{"s":"Flex.ME","f":0.1746,"v":4.27e9},{"s":"Flex.ME","f":0.1912,"v":2.43e9},{"s":"Flex.ME","f":0.2077,"v":1.55e9},{"s":"Flex.ME","f":0.2243,"v":1.11e9},{"s":"Flex.ME","f":0.2409,"v":7.08e8},{"s":"Flex.ME","f":0.2575,"v":4.52e8},{"s":"Flex.ME","f":0.2685,"v":4.04e8},{"s":"Flex.ME","f":0.2796,"v":5.65e8},{"s":"Flex.ME","f":0.2961,"v":6.32e8},{"s":"Flex.ME","f":0.3127,"v":7.93e8},{"s":"Flex.ME","f":0.3293,"v":1.11e9},{"s":"Flex.ME","f":0.3459,"v":1.74e9},{"s":"Flex.ME","f":0.3569,"v":3.04e9},{"s":"Flex.ME","f":0.3652,"v":5.97e9},{"s":"Flex.ME","f":0.3707,"v":3.59e10},{"s":"Flex.ME","f":0.3751,"v":6e11},{"s":"Flex.ME","f":0.379,"v":7.05e10},{"s":"Flex.ME","f":0.3845,"v":1.47e10},{"s":"Flex.ME","f":0.3928,"v":4.76e9},{"s":"Flex.ME","f":0.4066,"v":9.91e8},{"s":"Flex.ME","f":0.4232,"v":3.23e8},{"s":"Flex.ME","f":0.4398,"v":1.64e8},{"s":"Flex.ME","f":0.4564,"v":1.05e8},{"s":"Flex.ME","f":0.4729,"v":6.71e7},{"s":"Flex.ME","f":0.4895,"v":3.42e7},{"s":"Flex.ME","f":0.5,"v":1.95e7},
{"s":"Rig.PFT","f":0.005,"v":2.58e8},{"s":"Rig.PFT","f":0.0077,"v":6.32e8},{"s":"Rig.PFT","f":0.0116,"v":3.42e7},{"s":"Rig.PFT","f":0.016,"v":2.9e6},{"s":"Rig.PFT","f":0.0227,"v":1.32e8},{"s":"Rig.PFT","f":0.0282,"v":1.31e10},{"s":"Rig.PFT","f":0.0337,"v":4.04e8},{"s":"Rig.PFT","f":0.0376,"v":2.44e7},{"s":"Rig.PFT","f":0.0448,"v":1.05e8},{"s":"Rig.PFT","f":0.0503,"v":2.73e7},{"s":"Rig.PFT","f":0.0558,"v":8.39e7},{"s":"Rig.PFT","f":0.0597,"v":2.44e7},{"s":"Rig.PFT","f":0.0652,"v":9.4e7},{"s":"Rig.PFT","f":0.0724,"v":8.85e8},{"s":"Rig.PFT","f":0.0834,"v":4.56e9},{"s":"Rig.PFT","f":0.0917,"v":1.4e10},{"s":"Rig.PFT","f":0.1017,"v":3.85e10},{"s":"Rig.PFT","f":0.1138,"v":2.19e10},{"s":"Rig.PFT","f":0.1304,"v":1.22e10},{"s":"Rig.PFT","f":0.147,"v":8.75e9},{"s":"Rig.PFT","f":0.1635,"v":5.33e9},{"s":"Rig.PFT","f":0.1801,"v":2.72e9},{"s":"Rig.PFT","f":0.1967,"v":1.39e9},{"s":"Rig.PFT","f":0.2188,"v":4.52e8},{"s":"Rig.PFT","f":0.2409,"v":1.47e8},{"s":"Rig.PFT","f":0.2464,"v":8.39e7},{"s":"Rig.PFT","f":0.263,"v":2.44e7},{"s":"Rig.PFT","f":0.2796,"v":1.95e7},{"s":"Rig.PFT","f":0.2961,"v":2.18e7},{"s":"Rig.PFT","f":0.3127,"v":1.75e7},{"s":"Rig.PFT","f":0.3293,"v":1.95e7},{"s":"Rig.PFT","f":0.3459,"v":2.18e7},{"s":"Rig.PFT","f":0.3624,"v":2.44e7},{"s":"Rig.PFT","f":0.3735,"v":2.73e7},{"s":"Rig.PFT","f":0.3845,"v":3.42e7},{"s":"Rig.PFT","f":0.3956,"v":8.39e7},{"s":"Rig.PFT","f":0.4039,"v":2.58e8},{"s":"Rig.PFT","f":0.4094,"v":1.95e9},{"s":"Rig.PFT","f":0.4149,"v":4.04e8},{"s":"Rig.PFT","f":0.4204,"v":3.42e7},{"s":"Rig.PFT","f":0.4287,"v":5.67e6},{"s":"Rig.PFT","f":0.4398,"v":2.32e6},{"s":"Rig.PFT","f":0.4564,"v":1.18e6},{"s":"Rig.PFT","f":0.4729,"v":4.81e5},{"s":"Rig.PFT","f":0.484,"v":2.45e5},{"s":"Rig.PFT","f":0.5,"v":1.0e5},
{"s":"Flex.PFT","f":0.005,"v":2.58e8},{"s":"Flex.PFT","f":0.0077,"v":6.32e8},{"s":"Flex.PFT","f":0.0116,"v":3.42e7},{"s":"Flex.PFT","f":0.016,"v":2.9e6},{"s":"Flex.PFT","f":0.0227,"v":1.32e8},{"s":"Flex.PFT","f":0.0282,"v":1.31e10},{"s":"Flex.PFT","f":0.0337,"v":4.04e8},{"s":"Flex.PFT","f":0.0376,"v":2.44e7},{"s":"Flex.PFT","f":0.0448,"v":1.05e8},{"s":"Flex.PFT","f":0.0503,"v":2.73e7},{"s":"Flex.PFT","f":0.0558,"v":8.39e7},{"s":"Flex.PFT","f":0.0597,"v":2.44e7},{"s":"Flex.PFT","f":0.0652,"v":9.4e7},{"s":"Flex.PFT","f":0.0724,"v":8.85e8},{"s":"Flex.PFT","f":0.0834,"v":4.56e9},{"s":"Flex.PFT","f":0.0917,"v":1.4e10},{"s":"Flex.PFT","f":0.1017,"v":3.85e10},{"s":"Flex.PFT","f":0.1138,"v":2.19e10},{"s":"Flex.PFT","f":0.1304,"v":1.22e10},{"s":"Flex.PFT","f":0.147,"v":8.75e9},{"s":"Flex.PFT","f":0.1635,"v":5.33e9},{"s":"Flex.PFT","f":0.1801,"v":2.72e9},{"s":"Flex.PFT","f":0.1967,"v":1.39e9},{"s":"Flex.PFT","f":0.2188,"v":4.52e8},{"s":"Flex.PFT","f":0.2409,"v":1.47e8},{"s":"Flex.PFT","f":0.2464,"v":8.39e7},{"s":"Flex.PFT","f":0.263,"v":2.44e7},{"s":"Flex.PFT","f":0.2796,"v":1.95e7},{"s":"Flex.PFT","f":0.2961,"v":2.18e7},{"s":"Flex.PFT","f":0.3127,"v":1.75e7},{"s":"Flex.PFT","f":0.3293,"v":1.95e7},{"s":"Flex.PFT","f":0.3459,"v":2.44e7},{"s":"Flex.PFT","f":0.3624,"v":3.42e7},{"s":"Flex.PFT","f":0.3735,"v":5.36e7},{"s":"Flex.PFT","f":0.3845,"v":1.64e8},{"s":"Flex.PFT","f":0.3928,"v":9.91e8},{"s":"Flex.PFT","f":0.3967,"v":3.04e9},{"s":"Flex.PFT","f":0.4011,"v":6.32e8},{"s":"Flex.PFT","f":0.4066,"v":4.29e7},{"s":"Flex.PFT","f":0.4122,"v":4.54e6},{"s":"Flex.PFT","f":0.4177,"v":1.18e6},{"s":"Flex.PFT","f":0.426,"v":9.44e5},{"s":"Flex.PFT","f":0.4343,"v":1.18e6},{"s":"Flex.PFT","f":0.4453,"v":7.53e5},{"s":"Flex.PFT","f":0.4619,"v":3.85e5},{"s":"Flex.PFT","f":0.4785,"v":1.57e5},{"s":"Flex.PFT","f":0.4895,"v":8.0e4},{"s":"Flex.PFT","f":0.5,"v":5.1e4},
{"s":"Exp.","f":0.005,"v":5.36e7},{"s":"Exp.","f":0.0077,"v":2.58e8},{"s":"Exp.","f":0.0133,"v":4.29e7},{"s":"Exp.","f":0.0188,"v":1.39e7},{"s":"Exp.","f":0.0243,"v":8.39e7},{"s":"Exp.","f":0.0287,"v":9.91e8},{"s":"Exp.","f":0.0337,"v":3.23e8},{"s":"Exp.","f":0.0392,"v":3.42e7},{"s":"Exp.","f":0.0448,"v":1.32e8},{"s":"Exp.","f":0.0503,"v":2.73e7},{"s":"Exp.","f":0.0558,"v":6.71e7},{"s":"Exp.","f":0.0597,"v":1.75e7},{"s":"Exp.","f":0.0652,"v":1.05e8},{"s":"Exp.","f":0.0724,"v":9.91e8},{"s":"Exp.","f":0.0834,"v":4.76e9},{"s":"Exp.","f":0.0917,"v":1.47e10},{"s":"Exp.","f":0.1017,"v":4.02e10},{"s":"Exp.","f":0.1138,"v":2.3e10},{"s":"Exp.","f":0.1304,"v":1.31e10},{"s":"Exp.","f":0.147,"v":9.35e9},{"s":"Exp.","f":0.1635,"v":5.97e9},{"s":"Exp.","f":0.1801,"v":3.04e9},{"s":"Exp.","f":0.1967,"v":1.55e9},{"s":"Exp.","f":0.2188,"v":5.06e8},{"s":"Exp.","f":0.2409,"v":1.64e8},{"s":"Exp.","f":0.2575,"v":4.29e7},{"s":"Exp.","f":0.274,"v":2.18e7},{"s":"Exp.","f":0.2906,"v":2.73e7},{"s":"Exp.","f":0.3072,"v":2.44e7},{"s":"Exp.","f":0.3238,"v":2.73e7},{"s":"Exp.","f":0.3403,"v":3.42e7},{"s":"Exp.","f":0.3541,"v":5.36e7},{"s":"Exp.","f":0.368,"v":6.71e7},{"s":"Exp.","f":0.379,"v":1.32e8},{"s":"Exp.","f":0.3873,"v":3.23e8},{"s":"Exp.","f":0.3945,"v":1.95e9},{"s":"Exp.","f":0.4,"v":9.35e9},{"s":"Exp.","f":0.4066,"v":2.43e9},{"s":"Exp.","f":0.4149,"v":2.58e8},{"s":"Exp.","f":0.4287,"v":5.36e7},{"s":"Exp.","f":0.4453,"v":1.75e7},{"s":"Exp.","f":0.4619,"v":7.11e6},{"s":"Exp.","f":0.4785,"v":2.9e6},{"s":"Exp.","f":0.5,"v":7.53e5}
],
"b8":[
{"s":"Rig.ME","f":0.005,"v":2.14e9},{"s":"Rig.ME","f":0.0072,"v":6.53e9},{"s":"Rig.ME","f":0.0128,"v":2.58e9},{"s":"Rig.ME","f":0.0172,"v":1.02e9},{"s":"Rig.ME","f":0.0228,"v":9.46e9},{"s":"Rig.ME","f":0.0283,"v":9.64e10},{"s":"Rig.ME","f":0.0339,"v":6.53e9},{"s":"Rig.ME","f":0.0406,"v":4.84e8},{"s":"Rig.ME","f":0.0461,"v":3.74e9},{"s":"Rig.ME","f":0.0528,"v":1.99e10},{"s":"Rig.ME","f":0.0628,"v":7.29e10},{"s":"Rig.ME","f":0.0722,"v":2.78e11},{"s":"Rig.ME","f":0.0794,"v":1.27e11},{"s":"Rig.ME","f":0.1017,"v":6.65e10},{"s":"Rig.ME","f":0.1239,"v":3.47e10},{"s":"Rig.ME","f":0.1461,"v":1.5e10},{"s":"Rig.ME","f":0.1628,"v":8.61e9},{"s":"Rig.ME","f":0.1794,"v":5.42e9},{"s":"Rig.ME","f":0.1961,"v":4.1e9},{"s":"Rig.ME","f":0.2128,"v":2.83e9},{"s":"Rig.ME","f":0.235,"v":2.35e9},{"s":"Rig.ME","f":0.2572,"v":1.78e9},{"s":"Rig.ME","f":0.274,"v":1.62e9},{"s":"Rig.ME","f":0.2906,"v":2.14e9},{"s":"Rig.ME","f":0.3072,"v":2.58e9},{"s":"Rig.ME","f":0.3239,"v":3.1e9},{"s":"Rig.ME","f":0.3406,"v":3.74e9},{"s":"Rig.ME","f":0.3544,"v":4.94e9},{"s":"Rig.ME","f":0.3628,"v":6.53e9},{"s":"Rig.ME","f":0.3739,"v":1.99e10},{"s":"Rig.ME","f":0.3822,"v":1.53e11},{"s":"Rig.ME","f":0.3878,"v":1.42e12},{"s":"Rig.ME","f":0.3906,"v":1.71e12},{"s":"Rig.ME","f":0.3961,"v":3.88e11},{"s":"Rig.ME","f":0.4044,"v":3.47e10},{"s":"Rig.ME","f":0.4128,"v":7.85e9},{"s":"Rig.ME","f":0.4239,"v":3.1e9},{"s":"Rig.ME","f":0.4406,"v":1.02e9},{"s":"Rig.ME","f":0.4572,"v":4.84e8},{"s":"Rig.ME","f":0.4739,"v":2.78e8},{"s":"Rig.ME","f":0.4906,"v":1.75e8},{"s":"Rig.ME","f":0.5,"v":1.45e8},
{"s":"Flex.ME","f":0.005,"v":2.14e9},{"s":"Flex.ME","f":0.0072,"v":6.53e9},{"s":"Flex.ME","f":0.0128,"v":2.58e9},{"s":"Flex.ME","f":0.0172,"v":1.02e9},{"s":"Flex.ME","f":0.0228,"v":9.46e9},{"s":"Flex.ME","f":0.0283,"v":9.64e10},{"s":"Flex.ME","f":0.0339,"v":6.53e9},{"s":"Flex.ME","f":0.0406,"v":4.84e8},{"s":"Flex.ME","f":0.0461,"v":3.74e9},{"s":"Flex.ME","f":0.0528,"v":1.99e10},{"s":"Flex.ME","f":0.0628,"v":7.29e10},{"s":"Flex.ME","f":0.0722,"v":2.78e11},{"s":"Flex.ME","f":0.0794,"v":1.27e11},{"s":"Flex.ME","f":0.1017,"v":6.65e10},{"s":"Flex.ME","f":0.1239,"v":3.47e10},{"s":"Flex.ME","f":0.1461,"v":1.5e10},{"s":"Flex.ME","f":0.1628,"v":8.61e9},{"s":"Flex.ME","f":0.1794,"v":5.42e9},{"s":"Flex.ME","f":0.1961,"v":4.1e9},{"s":"Flex.ME","f":0.2128,"v":3.1e9},{"s":"Flex.ME","f":0.235,"v":2.58e9},{"s":"Flex.ME","f":0.2517,"v":2.35e9},{"s":"Flex.ME","f":0.2683,"v":2.58e9},{"s":"Flex.ME","f":0.285,"v":2.83e9},{"s":"Flex.ME","f":0.3017,"v":3.4e9},{"s":"Flex.ME","f":0.3183,"v":3.74e9},{"s":"Flex.ME","f":0.335,"v":5.42e9},{"s":"Flex.ME","f":0.3517,"v":9.46e9},{"s":"Flex.ME","f":0.3628,"v":3.47e10},{"s":"Flex.ME","f":0.3711,"v":2.67e11},{"s":"Flex.ME","f":0.3772,"v":3e12},{"s":"Flex.ME","f":0.3822,"v":3.88e11},{"s":"Flex.ME","f":0.3906,"v":3.47e10},{"s":"Flex.ME","f":0.4017,"v":5.42e9},{"s":"Flex.ME","f":0.4183,"v":1.23e9},{"s":"Flex.ME","f":0.435,"v":5.83e8},{"s":"Flex.ME","f":0.4517,"v":4.03e8},{"s":"Flex.ME","f":0.4683,"v":2.78e8},{"s":"Flex.ME","f":0.485,"v":1.91e8},{"s":"Flex.ME","f":0.5,"v":1.21e8},
{"s":"Rig.PFT","f":0.005,"v":2.58e9},{"s":"Rig.PFT","f":0.0083,"v":5.42e9},{"s":"Rig.PFT","f":0.0117,"v":1.02e9},{"s":"Rig.PFT","f":0.0156,"v":5.22e7},{"s":"Rig.PFT","f":0.0217,"v":4.5e9},{"s":"Rig.PFT","f":0.0283,"v":6.06e10},{"s":"Rig.PFT","f":0.0339,"v":6.53e9},{"s":"Rig.PFT","f":0.0406,"v":3.34e8},{"s":"Rig.PFT","f":0.0461,"v":3.4e9},{"s":"Rig.PFT","f":0.0528,"v":1.81e10},{"s":"Rig.PFT","f":0.0628,"v":6.65e10},{"s":"Rig.PFT","f":0.0722,"v":2.58e11},{"s":"Rig.PFT","f":0.0794,"v":1.16e11},{"s":"Rig.PFT","f":0.0906,"v":7.29e10},{"s":"Rig.PFT","f":0.1017,"v":5.52e10},{"s":"Rig.PFT","f":0.1239,"v":3.16e10},{"s":"Rig.PFT","f":0.1461,"v":1.14e10},{"s":"Rig.PFT","f":0.1628,"v":9.46e9},{"s":"Rig.PFT","f":0.1794,"v":4.5e9},{"s":"Rig.PFT","f":0.1961,"v":2.14e9},{"s":"Rig.PFT","f":0.2128,"v":1.23e9},{"s":"Rig.PFT","f":0.2294,"v":6.4e8},{"s":"Rig.PFT","f":0.2461,"v":3.34e8},{"s":"Rig.PFT","f":0.2628,"v":2.31e8},{"s":"Rig.PFT","f":0.2794,"v":1.59e8},{"s":"Rig.PFT","f":0.2961,"v":1.32e8},{"s":"Rig.PFT","f":0.3183,"v":1.32e8},{"s":"Rig.PFT","f":0.335,"v":1.59e8},{"s":"Rig.PFT","f":0.3489,"v":1.45e8},{"s":"Rig.PFT","f":0.3572,"v":1.21e8},{"s":"Rig.PFT","f":0.3683,"v":3.34e8},{"s":"Rig.PFT","f":0.3794,"v":5.83e8},{"s":"Rig.PFT","f":0.3906,"v":1.48e9},{"s":"Rig.PFT","f":0.3961,"v":5.42e9},{"s":"Rig.PFT","f":0.4017,"v":2.39e10},{"s":"Rig.PFT","f":0.4044,"v":6.06e10},{"s":"Rig.PFT","f":0.41,"v":1.37e10},{"s":"Rig.PFT","f":0.4156,"v":2.58e9},{"s":"Rig.PFT","f":0.4239,"v":5.83e8},{"s":"Rig.PFT","f":0.435,"v":1.59e8},{"s":"Rig.PFT","f":0.4461,"v":7.57e7},{"s":"Rig.PFT","f":0.4628,"v":4.34e7},{"s":"Rig.PFT","f":0.4739,"v":4.34e7},{"s":"Rig.PFT","f":0.485,"v":2.99e7},{"s":"Rig.PFT","f":0.5,"v":1.42e7},
{"s":"Flex.PFT","f":0.005,"v":2.58e9},{"s":"Flex.PFT","f":0.0083,"v":5.42e9},{"s":"Flex.PFT","f":0.0117,"v":1.02e9},{"s":"Flex.PFT","f":0.0156,"v":5.22e7},{"s":"Flex.PFT","f":0.0217,"v":4.5e9},{"s":"Flex.PFT","f":0.0283,"v":6.06e10},{"s":"Flex.PFT","f":0.0339,"v":6.53e9},{"s":"Flex.PFT","f":0.0406,"v":3.34e8},{"s":"Flex.PFT","f":0.0461,"v":3.4e9},{"s":"Flex.PFT","f":0.0528,"v":1.81e10},{"s":"Flex.PFT","f":0.0628,"v":6.65e10},{"s":"Flex.PFT","f":0.0722,"v":2.58e11},{"s":"Flex.PFT","f":0.0794,"v":1.16e11},{"s":"Flex.PFT","f":0.0906,"v":7.29e10},{"s":"Flex.PFT","f":0.1017,"v":5.52e10},{"s":"Flex.PFT","f":0.1239,"v":3.16e10},{"s":"Flex.PFT","f":0.1461,"v":1.14e10},{"s":"Flex.PFT","f":0.1628,"v":9.46e9},{"s":"Flex.PFT","f":0.1794,"v":4.5e9},{"s":"Flex.PFT","f":0.1961,"v":2.14e9},{"s":"Flex.PFT","f":0.2128,"v":1.23e9},{"s":"Flex.PFT","f":0.2294,"v":6.4e8},{"s":"Flex.PFT","f":0.2461,"v":3.34e8},{"s":"Flex.PFT","f":0.2628,"v":2.31e8},{"s":"Flex.PFT","f":0.2794,"v":1.59e8},{"s":"Flex.PFT","f":0.2961,"v":1.32e8},{"s":"Flex.PFT","f":0.3128,"v":1.45e8},{"s":"Flex.PFT","f":0.3294,"v":1.59e8},{"s":"Flex.PFT","f":0.3461,"v":2.31e8},{"s":"Flex.PFT","f":0.3572,"v":4.03e8},{"s":"Flex.PFT","f":0.3683,"v":1.78e9},{"s":"Flex.PFT","f":0.3767,"v":1.14e10},{"s":"Flex.PFT","f":0.3822,"v":4.18e10},{"s":"Flex.PFT","f":0.385,"v":6.06e10},{"s":"Flex.PFT","f":0.3906,"v":1.65e10},{"s":"Flex.PFT","f":0.3989,"v":1.48e9},{"s":"Flex.PFT","f":0.4072,"v":4.03e8},{"s":"Flex.PFT","f":0.4183,"v":1.59e8},{"s":"Flex.PFT","f":0.4294,"v":5.22e7},{"s":"Flex.PFT","f":0.4406,"v":4.34e7},{"s":"Flex.PFT","f":0.4572,"v":2.99e7},{"s":"Flex.PFT","f":0.4683,"v":2.48e7},{"s":"Flex.PFT","f":0.4794,"v":1.71e7},{"s":"Flex.PFT","f":0.4906,"v":9.82e6},{"s":"Flex.PFT","f":0.5,"v":6.78e6},
{"s":"Exp.","f":0.005,"v":1.02e9},{"s":"Exp.","f":0.0083,"v":9.46e9},{"s":"Exp.","f":0.0128,"v":5.42e9},{"s":"Exp.","f":0.0183,"v":8.45e8},{"s":"Exp.","f":0.0239,"v":3.74e9},{"s":"Exp.","f":0.0283,"v":2.88e10},{"s":"Exp.","f":0.0339,"v":6.53e9},{"s":"Exp.","f":0.0406,"v":3.34e8},{"s":"Exp.","f":0.0461,"v":3.74e9},{"s":"Exp.","f":0.0528,"v":1.99e10},{"s":"Exp.","f":0.0628,"v":7.29e10},{"s":"Exp.","f":0.0722,"v":2.78e11},{"s":"Exp.","f":0.0794,"v":1.27e11},{"s":"Exp.","f":0.0906,"v":8.0e10},{"s":"Exp.","f":0.1017,"v":6.65e10},{"s":"Exp.","f":0.1128,"v":5.04e10},{"s":"Exp.","f":0.1239,"v":3.47e10},{"s":"Exp.","f":0.135,"v":2.39e10},{"s":"Exp.","f":0.1461,"v":1.37e10},{"s":"Exp.","f":0.1628,"v":9.46e9},{"s":"Exp.","f":0.1794,"v":4.5e9},{"s":"Exp.","f":0.1961,"v":1.48e9},{"s":"Exp.","f":0.2128,"v":8.45e8},{"s":"Exp.","f":0.235,"v":4.84e8},{"s":"Exp.","f":0.2461,"v":2.31e8},{"s":"Exp.","f":0.2628,"v":1.91e8},{"s":"Exp.","f":0.2794,"v":1.75e8},{"s":"Exp.","f":0.2906,"v":1.91e8},{"s":"Exp.","f":0.3017,"v":1.59e8},{"s":"Exp.","f":0.3183,"v":2.31e8},{"s":"Exp.","f":0.335,"v":2.31e8},{"s":"Exp.","f":0.3517,"v":3.34e8},{"s":"Exp.","f":0.3628,"v":7.03e8},{"s":"Exp.","f":0.3739,"v":3.1e9},{"s":"Exp.","f":0.3822,"v":2.39e10},{"s":"Exp.","f":0.3861,"v":6.65e10},{"s":"Exp.","f":0.3906,"v":1.99e10},{"s":"Exp.","f":0.3989,"v":2.14e9},{"s":"Exp.","f":0.4072,"v":4.84e8},{"s":"Exp.","f":0.4183,"v":1.91e8},{"s":"Exp.","f":0.4294,"v":5.22e7},{"s":"Exp.","f":0.4406,"v":3.6e7},{"s":"Exp.","f":0.4572,"v":2.48e7},{"s":"Exp.","f":0.4683,"v":1.71e7},{"s":"Exp.","f":0.4794,"v":6.78e6},{"s":"Exp.","f":0.4906,"v":4.67e6},{"s":"Exp.","f":0.5,"v":3.22e6}
]
},
"columns":3,
"bounds":"flush",
"spacing":{"row":138,"column":95},
"resolve":{"scale":{"x":"independent","y":"independent","color":"independent","strokeDash":"independent","fill":"independent"},"axis":{"x":"independent","y":"independent"},"legend":{"color":"independent","strokeDash":"independent"}},
"concat":[
{
 "width":299,"height":244,
 "data":{"name":"t2"},
 "layer":[
  {"mark":{"type":"line","clip":true,"strokeWidth":1.4},
   "encoding":{
    "x":{"field":"f","type":"quantitative","title":"Frequency (Hz)","scale":{"domain":[0.005,0.5],"nice":false,"zero":false},"axis":{"labelOverlap":false,"values":[0.02,0.04,0.06,0.08,0.1,0.12,0.14,0.16,0.18,0.2,0.22,0.24,0.26,0.28,0.3,0.32,0.34,0.36,0.38,0.4,0.42,0.44,0.46,0.48,0.5],"labelExpr":"abs(datum.value*10-round(datum.value*10))<0.001 ? format(datum.value,'.1f') : ''"}},
    "y":{"field":"v","type":"quantitative","title":"Strain 2 PSD ((μm/m)²/Hz)","scale":{"type":"log","domain":[0.0025,100000],"nice":false},"axis":{"labelOverlap":false,"titlePadding":11,"values":[0.01,0.1,1,10,100,1000,10000,100000],"labelExpr":"datum.value==1 ? '10⁰' : datum.value==100000 ? '10⁵' : ''"}},
    "color":{"field":"s","type":"nominal","scale":{"domain":["Flex.ME","Flex.PFT","Exp."],"range":["#1f77c4","#ee7d50","#333333"]},"legend":{"orient":"none","legendX":77,"legendY":159,"title":null,"symbolType":"stroke","symbolSize":3600,"symbolStrokeWidth":1.4,"clipHeight":15,"rowPadding":3.5,"labelFontSize":17,"labelFont":"Liberation Sans","labelColor":"#000000","labelOffset":5,"padding":6,"strokeColor":"#333333","fillColor":"#ffffff","labelLimit":300}}
   }},
  {"mark":{"type":"point","opacity":0},
   "encoding":{
    "x":{"field":"f","type":"quantitative","scale":{"domain":[0.005,0.5],"nice":false,"zero":false},"axis":{"orient":"top","title":"SS2","labels":false,"ticks":false,"domain":false,"grid":false,"titleFontSize":20,"titleFontWeight":"bold","titleColor":"#000000","titlePadding":6,"titleBaseline":"alphabetic"}},
    "y":{"field":"v","type":"quantitative","scale":{"type":"log","domain":[0.0025,100000],"nice":false}}
   }}
 ],
 "resolve":{"axis":{"x":"independent"}}
},
{
 "width":299,"height":244,
 "title":{"text":"(a) Strain 2","orient":"bottom","font":"Liberation Serif","fontSize":25,"fontWeight":"normal","color":"#000000","offset":18,"dx":-28,"baseline":"top","anchor":"middle","frame":"group"},
 "data":{"name":"t5"},
 "layer":[
  {"mark":{"type":"line","clip":true,"strokeWidth":1.4},
   "encoding":{
    "x":{"field":"f","type":"quantitative","title":"Frequency (Hz)","scale":{"domain":[0.005,0.5],"nice":false,"zero":false},"axis":{"labelOverlap":false,"values":[0.02,0.04,0.06,0.08,0.1,0.12,0.14,0.16,0.18,0.2,0.22,0.24,0.26,0.28,0.3,0.32,0.34,0.36,0.38,0.4,0.42,0.44,0.46,0.48,0.5],"labelExpr":"abs(datum.value*10-round(datum.value*10))<0.001 ? format(datum.value,'.1f') : ''"}},
    "y":{"field":"v","type":"quantitative","title":"Strain 2 PSD ((μm/m)²/Hz)","scale":{"type":"log","domain":[0.0023,100000],"nice":false},"axis":{"labelOverlap":false,"titlePadding":11,"values":[0.01,0.1,1,10,100,1000,10000,100000],"labelExpr":"datum.value==1 ? '10⁰' : datum.value==100000 ? '10⁵' : ''"}},
    "color":{"field":"s","type":"nominal","scale":{"domain":["Flex.ME","Flex.PFT","Exp."],"range":["#1f77c4","#ee7d50","#333333"]},"legend":null}
   }},
  {"mark":{"type":"point","opacity":0},
   "encoding":{
    "x":{"field":"f","type":"quantitative","scale":{"domain":[0.005,0.5],"nice":false,"zero":false},"axis":{"orient":"top","title":"SS5","labels":false,"ticks":false,"domain":false,"grid":false,"titleFontSize":20,"titleFontWeight":"bold","titleColor":"#000000","titlePadding":6,"titleBaseline":"alphabetic"}},
    "y":{"field":"v","type":"quantitative","scale":{"type":"log","domain":[0.0023,100000],"nice":false}}
   }}
 ],
 "resolve":{"axis":{"x":"independent"}}
},
{
 "width":299,"height":244,
 "layer":[
  {"data":{"name":"bands8"},"mark":{"type":"rect"},
   "encoding":{
    "x":{"field":"f","type":"quantitative","scale":{"domain":[0.005,0.5],"nice":false,"zero":false},"axis":null},
    "x2":{"field":"f2"},
    "fill":{"field":"band","type":"nominal","scale":{"domain":["low","wave","bend"],"range":["rgba(204,0,255,0.2)","rgba(255,215,0,0.13)","rgba(51,204,51,0.16)"]},"legend":null}
   }},
  {"data":{"name":"t8"},"mark":{"type":"line","clip":true,"strokeWidth":1.4},
   "encoding":{
    "x":{"field":"f","type":"quantitative","title":"Frequency (Hz)","scale":{"domain":[0.005,0.5],"nice":false,"zero":false},"axis":{"labelOverlap":false,"values":[0.02,0.04,0.06,0.08,0.1,0.12,0.14,0.16,0.18,0.2,0.22,0.24,0.26,0.28,0.3,0.32,0.34,0.36,0.38,0.4,0.42,0.44,0.46,0.48,0.5],"labelExpr":"abs(datum.value*10-round(datum.value*10))<0.001 ? format(datum.value,'.1f') : ''"}},
    "y":{"field":"v","type":"quantitative","title":"Strain 2 PSD ((μm/m)²/Hz)","scale":{"type":"log","domain":[0.0933,100000],"nice":false},"axis":{"labelOverlap":false,"titlePadding":11,"values":[0.1,1,10,100,1000,10000,100000],"labelExpr":"datum.value==1 ? '10⁰' : datum.value==100000 ? '10⁵' : ''"}},
    "color":{"field":"s","type":"nominal","scale":{"domain":["Flex.ME","Flex.PFT","Exp."],"range":["#1f77c4","#ee7d50","#333333"]},"legend":null}
   }},
  {"data":{"name":"arrows8"},"mark":{"type":"rule","color":"#111111","strokeWidth":1},
   "encoding":{
    "x":{"field":"f","type":"quantitative","scale":{"domain":[0.005,0.5],"nice":false,"zero":false},"axis":null},
    "y":{"field":"v","type":"quantitative","scale":{"type":"log","domain":[0.0933,100000],"nice":false}},
    "x2":{"field":"f2"},"y2":{"field":"v2"}
   }},
  {"data":{"name":"arrows8"},"mark":{"type":"point","shape":"triangle-up","filled":true,"color":"#111111","opacity":1,"size":70},
   "encoding":{
    "x":{"field":"f2","type":"quantitative","scale":{"domain":[0.005,0.5],"nice":false,"zero":false},"axis":null},
    "y":{"field":"v2","type":"quantitative","scale":{"type":"log","domain":[0.0933,100000],"nice":false}},
    "angle":{"field":"a","type":"quantitative","scale":null}
   }},
  {"data":{"name":"labels8"},"mark":{"type":"text","align":"left","baseline":"middle","fontSize":17,"font":"Liberation Sans","color":"#111111"},
   "encoding":{
    "x":{"field":"f","type":"quantitative","scale":{"domain":[0.005,0.5],"nice":false,"zero":false},"axis":{"orient":"top","title":"SS8","labels":false,"ticks":false,"domain":false,"grid":false,"titleFontSize":20,"titleFontWeight":"bold","titleColor":"#000000","titlePadding":6,"titleBaseline":"alphabetic"}},
    "y":{"field":"v","type":"quantitative","scale":{"type":"log","domain":[0.0933,100000],"nice":false}},
    "text":{"field":"label"}
   }}
 ],
 "resolve":{"axis":{"x":"independent"}}
},
{
 "width":299,"height":243,
 "data":{"name":"b2"},
 "layer":[
  {"mark":{"type":"line","clip":true,"strokeWidth":1.1},
   "encoding":{
    "x":{"field":"f","type":"quantitative","title":"Frequency (Hz)","scale":{"domain":[0.005,0.5],"nice":false,"zero":false},"axis":{"labelOverlap":false,"values":[0.02,0.04,0.06,0.08,0.1,0.12,0.14,0.16,0.18,0.2,0.22,0.24,0.26,0.28,0.3,0.32,0.34,0.36,0.38,0.4,0.42,0.44,0.46,0.48,0.5],"labelExpr":"abs(datum.value*10-round(datum.value*10))<0.001 ? format(datum.value,'.1f') : ''"}},
    "y":{"field":"v","type":"quantitative","title":"My PSD ((kNm)²/Hz)","scale":{"type":"log","domain":[28800,2.57e11],"nice":false},"axis":{"labelOverlap":false,"titlePadding":13,"values":[1e5,1e6,1e7,1e8,1e9,1e10,1e11],"labelExpr":"datum.value==1e5 ? '10⁵' : datum.value==1e10 ? '10¹⁰' : ''"}},
    "color":{"field":"s","type":"nominal","scale":{"domain":["Rig.ME","Flex.ME","Rig.PFT","Flex.PFT","Exp."],"range":["#0072BD","#0072BD","#D95319","#D95319","#000000"]},"legend":{"orient":"none","legendX":57,"legendY":133,"title":null,"symbolType":"stroke","symbolSize":3600,"symbolStrokeWidth":1.1,"clipHeight":15,"rowPadding":4.5,"labelFontSize":17,"labelFont":"Liberation Sans","labelColor":"#000000","labelOffset":5,"padding":6,"strokeColor":"#333333","fillColor":"#ffffff","labelLimit":300}},
    "strokeDash":{"field":"s","type":"nominal","scale":{"domain":["Rig.ME","Flex.ME","Rig.PFT","Flex.PFT","Exp."],"range":[[7,4],[1,0],[7,4],[1,0],[1,0]]},"legend":{"orient":"none","legendX":57,"legendY":133,"title":null,"symbolType":"stroke","symbolSize":3600,"symbolStrokeWidth":1.1,"clipHeight":15,"rowPadding":4.5,"labelFontSize":17,"labelFont":"Liberation Sans","labelColor":"#000000","labelOffset":5,"padding":6,"strokeColor":"#333333","fillColor":"#ffffff","labelLimit":300}}
   }},
  {"mark":{"type":"point","opacity":0},
   "encoding":{
    "x":{"field":"f","type":"quantitative","scale":{"domain":[0.005,0.5],"nice":false,"zero":false},"axis":{"orient":"top","title":"SS2","labels":false,"ticks":false,"domain":false,"grid":false,"titleFontSize":20,"titleFontWeight":"bold","titleColor":"#000000","titlePadding":6,"titleBaseline":"alphabetic"}},
    "y":{"field":"v","type":"quantitative","scale":{"type":"log","domain":[28800,2.57e11],"nice":false}}
   }}
 ],
 "resolve":{"axis":{"x":"independent"}}
},
{
 "width":299,"height":243,
 "title":{"text":"(b) Tower base fore-aft bending moment","orient":"bottom","font":"Liberation Serif","fontSize":25,"fontWeight":"normal","color":"#000000","offset":22,"dx":-28,"baseline":"top","anchor":"middle","frame":"group"},
 "data":{"name":"b5"},
 "layer":[
  {"mark":{"type":"line","clip":true,"strokeWidth":1.1},
   "encoding":{
    "x":{"field":"f","type":"quantitative","title":"Frequency (Hz)","scale":{"domain":[0.005,0.5],"nice":false,"zero":false},"axis":{"labelOverlap":false,"values":[0.02,0.04,0.06,0.08,0.1,0.12,0.14,0.16,0.18,0.2,0.22,0.24,0.26,0.28,0.3,0.32,0.34,0.36,0.38,0.4,0.42,0.44,0.46,0.48,0.5],"labelExpr":"abs(datum.value*10-round(datum.value*10))<0.001 ? format(datum.value,'.1f') : ''"}},
    "y":{"field":"v","type":"quantitative","title":"My PSD ((kNm)²/Hz)","scale":{"type":"log","domain":[38900,5.01e11],"nice":false},"axis":{"labelOverlap":false,"titlePadding":13,"values":[1e5,1e6,1e7,1e8,1e9,1e10,1e11],"labelExpr":"datum.value==1e5 ? '10⁵' : datum.value==1e10 ? '10¹⁰' : ''"}},
    "color":{"field":"s","type":"nominal","scale":{"domain":["Rig.ME","Flex.ME","Rig.PFT","Flex.PFT","Exp."],"range":["#0072BD","#0072BD","#D95319","#D95319","#000000"]},"legend":null},
    "strokeDash":{"field":"s","type":"nominal","scale":{"domain":["Rig.ME","Flex.ME","Rig.PFT","Flex.PFT","Exp."],"range":[[7,4],[1,0],[7,4],[1,0],[1,0]]},"legend":null}
   }},
  {"mark":{"type":"point","opacity":0},
   "encoding":{
    "x":{"field":"f","type":"quantitative","scale":{"domain":[0.005,0.5],"nice":false,"zero":false},"axis":{"orient":"top","title":"SS5","labels":false,"ticks":false,"domain":false,"grid":false,"titleFontSize":20,"titleFontWeight":"bold","titleColor":"#000000","titlePadding":6,"titleBaseline":"alphabetic"}},
    "y":{"field":"v","type":"quantitative","scale":{"type":"log","domain":[38900,5.01e11],"nice":false}}
   }}
 ],
 "resolve":{"axis":{"x":"independent"}}
},
{
 "width":299,"height":243,
 "data":{"name":"b8"},
 "layer":[
  {"mark":{"type":"line","clip":true,"strokeWidth":1.1},
   "encoding":{
    "x":{"field":"f","type":"quantitative","title":"Frequency (Hz)","scale":{"domain":[0.005,0.5],"nice":false,"zero":false},"axis":{"labelOverlap":false,"values":[0.02,0.04,0.06,0.08,0.1,0.12,0.14,0.16,0.18,0.2,0.22,0.24,0.26,0.28,0.3,0.32,0.34,0.36,0.38,0.4,0.42,0.44,0.46,0.48,0.5],"labelExpr":"abs(datum.value*10-round(datum.value*10))<0.001 ? format(datum.value,'.1f') : ''"}},
    "y":{"field":"v","type":"quantitative","title":"My PSD ((kNm)²/Hz)","scale":{"type":"log","domain":[3.09e6,2.34e12],"nice":false},"axis":{"labelOverlap":false,"titlePadding":13,"values":[1e7,1e8,1e9,1e10,1e11,1e12],"labelExpr":"datum.value==1e10 ? '10¹⁰' : ''"}},
    "color":{"field":"s","type":"nominal","scale":{"domain":["Rig.ME","Flex.ME","Rig.PFT","Flex.PFT","Exp."],"range":["#0072BD","#0072BD","#D95319","#D95319","#000000"]},"legend":null},
    "strokeDash":{"field":"s","type":"nominal","scale":{"domain":["Rig.ME","Flex.ME","Rig.PFT","Flex.PFT","Exp."],"range":[[7,4],[1,0],[7,4],[1,0],[1,0]]},"legend":null}
   }},
  {"mark":{"type":"point","opacity":0},
   "encoding":{
    "x":{"field":"f","type":"quantitative","scale":{"domain":[0.005,0.5],"nice":false,"zero":false},"axis":{"orient":"top","title":"SS8","labels":false,"ticks":false,"domain":false,"grid":false,"titleFontSize":20,"titleFontWeight":"bold","titleColor":"#000000","titlePadding":6,"titleBaseline":"alphabetic"}},
    "y":{"field":"v","type":"quantitative","scale":{"type":"log","domain":[3.09e6,2.34e12],"nice":false}}
   }}
 ],
 "resolve":{"axis":{"x":"independent"}}
}
]
}
